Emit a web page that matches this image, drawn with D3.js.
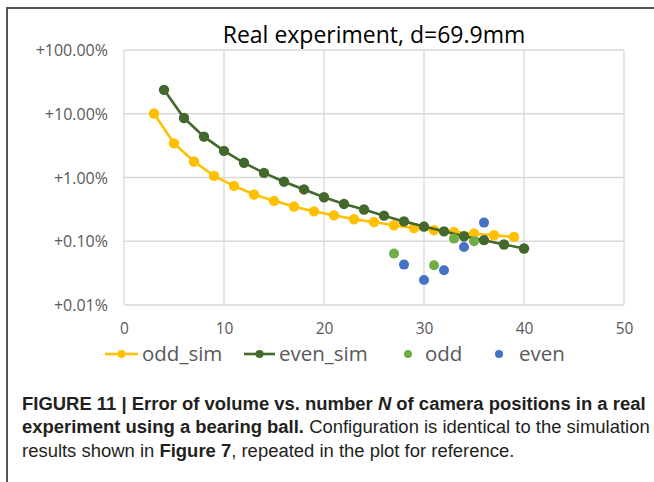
<!DOCTYPE html>
<html>
<head>
<meta charset="utf-8">
<script src="https://cdn.jsdelivr.net/npm/d3@7"></script>
<style>
html,body{margin:0;padding:0;background:#fff;}
svg{display:block;}
</style>
</head>
<body>
<svg id="chart" width="654" height="482"></svg>
<script>
// ---- data ----
const oddSimX = [3,5,7,9,11,13,15,17,19,21,23,25,27,29,31,33,35,37,39];
const oddSimY = [10.1,3.43,1.78,1.06,0.74,0.54,0.43,0.35,0.294,0.255,0.221,0.20,0.178,0.161,0.149,0.140,0.132,0.124,0.117];
const evenSimX = [4,6,8,10,12,14,16,18,20,22,24,26,28,30,32,34,36,38,40];
const evenSimY = [23.7,8.57,4.37,2.62,1.70,1.18,0.86,0.65,0.49,0.385,0.315,0.252,0.205,0.170,0.143,0.120,0.104,0.089,0.077];
const oddX = [27,31,33,35];
const oddY = [0.064,0.042,0.110,0.100];
const evenX = [28,30,32,34,36];
const evenY = [0.043,0.0246,0.035,0.081,0.196];
const xTicks = [0,10,20,30,40,50];
const yTicks = [100,10,1,0.1,0.01];
const yTickLabels = ["+100.00%","+10.00%","+1.00%","+0.10%","+0.01%"];
const seriesNames = ["odd_sim","even_sim","odd","even"];
const titleText = "Real experiment, d=69.9mm";

const colors = {odd_sim:"#FFC000", even_sim:"#43682B", odd:"#70AD47", even:"#4472C4"};

const svg = d3.select("#chart");
const L = 124, R = 624, T = 50, B = 305;
const x = d3.scaleLinear().domain([0,50]).range([L,R]);
const y = d3.scaleLog().domain([0.01,100]).range([B,T]);

const chartFont = "'Open Sans', 'Noto Sans', sans-serif";

// frame (top and left rules)
svg.append("line").attr("x1",7).attr("x2",654).attr("y1",8).attr("y2",8)
  .attr("stroke","#555").attr("stroke-width",2);
svg.append("line").attr("x1",7).attr("x2",7).attr("y1",7).attr("y2",482)
  .attr("stroke","#555").attr("stroke-width",2);

// grid
const grid = svg.append("g");
grid.selectAll("line.v").data(xTicks).join("line")
  .attr("x1",d=>x(d)).attr("x2",d=>x(d)).attr("y1",T).attr("y2",B)
  .attr("stroke","#d9d9d9").attr("stroke-width",1.3);
grid.selectAll("line.h").data(yTicks).join("line")
  .attr("x1",L).attr("x2",R).attr("y1",d=>y(d)).attr("y2",d=>y(d))
  .attr("stroke","#d9d9d9").attr("stroke-width",1.3);

// axes (labels only)
const xAxis = d3.axisBottom(x).tickValues(xTicks).tickSize(0).tickPadding(0).tickFormat(d3.format("d"));
const gx = svg.append("g").attr("transform",`translate(0,${B})`).call(xAxis);
gx.select(".domain").remove();
gx.selectAll("text").attr("dy",null).attr("y",29)
  .style("font-family",chartFont).style("font-size","15.5px").attr("fill","#595959");

const yAxis = d3.axisLeft(y).tickValues(yTicks).tickSize(0).tickPadding(0)
  .tickFormat(d=>yTickLabels[yTicks.indexOf(d)]);
const gy = svg.append("g").attr("transform",`translate(108,0)`).call(yAxis);
gy.select(".domain").remove();
gy.selectAll("text").attr("x",0).attr("dy","0.35em")
  .style("font-family",chartFont).style("font-size","16px").attr("fill","#595959");

// series lines
const line = d3.line().x(d=>x(d[0])).y(d=>y(d[1]));
const oddSim = oddSimX.map((v,i)=>[v,oddSimY[i]]);
const evenSim = evenSimX.map((v,i)=>[v,evenSimY[i]]);
const odd = oddX.map((v,i)=>[v,oddY[i]]);
const even = evenX.map((v,i)=>[v,evenY[i]]);

svg.append("path").datum(oddSim).attr("d",line).attr("fill","none")
  .attr("stroke",colors.odd_sim).attr("stroke-width",2.6);
svg.append("g").selectAll("circle").data(oddSim).join("circle")
  .attr("cx",d=>x(d[0])).attr("cy",d=>y(d[1])).attr("r",5.2).attr("fill",colors.odd_sim);

svg.append("path").datum(evenSim).attr("d",line).attr("fill","none")
  .attr("stroke",colors.even_sim).attr("stroke-width",2.6);
svg.append("g").selectAll("circle").data(evenSim).join("circle")
  .attr("cx",d=>x(d[0])).attr("cy",d=>y(d[1])).attr("r",5.2).attr("fill",colors.even_sim);

svg.append("g").selectAll("circle").data(odd).join("circle")
  .attr("cx",d=>x(d[0])).attr("cy",d=>y(d[1])).attr("r",5).attr("fill",colors.odd);
svg.append("g").selectAll("circle").data(even).join("circle")
  .attr("cx",d=>x(d[0])).attr("cy",d=>y(d[1])).attr("r",5).attr("fill",colors.even);

// title
svg.append("text").attr("x",(L+R)/2).attr("y",43).attr("text-anchor","middle")
  .style("font-family",chartFont).style("font-size","23px").attr("fill","#000")
  .text(titleText);

// legend
const legY = 354;
const leg = svg.append("g");
const legItems = [
  {name:seriesNames[0], type:"line", x0:105, x1:138, tx:142},
  {name:seriesNames[1], type:"line", x0:244, x1:275, tx:279},
  {name:seriesNames[2], type:"dot", x0:408, x1:408, tx:425},
  {name:seriesNames[3], type:"dot", x0:499, x1:499, tx:519}
];
legItems.forEach(it=>{
  const c = colors[it.name];
  if(it.type==="line"){
    leg.append("line").attr("x1",it.x0).attr("x2",it.x1).attr("y1",legY).attr("y2",legY)
      .attr("stroke",c).attr("stroke-width",2.6);
    leg.append("circle").attr("cx",(it.x0+it.x1)/2).attr("cy",legY).attr("r",4).attr("fill",c);
  } else {
    leg.append("circle").attr("cx",it.x0).attr("cy",legY).attr("r",4).attr("fill",c);
  }
  leg.append("text").attr("x",it.tx).attr("y",legY).attr("dy","0.35em")
    .style("font-family",chartFont).style("font-size","20.5px").attr("fill","#595959")
    .text(it.name);
});

// caption
const capFont = "'Liberation Sans', Arial, sans-serif";
const cap = svg.append("g").style("font-family",capFont).attr("fill","#231f20");
const l1 = cap.append("text").attr("x",22).attr("y",410).style("font-size","16px");
l1.append("tspan").attr("font-weight","bold").text("FIGURE 11 | Error of volume vs. number ");
l1.append("tspan").attr("font-weight","bold").attr("font-style","italic").text("N");
l1.append("tspan").attr("font-weight","bold").text(" of camera positions in a real");
const l2 = cap.append("text").attr("x",22).attr("y",433).style("font-size","16px");
l2.append("tspan").attr("font-weight","bold").text("experiment using a bearing ball.");
l2.append("tspan").text(" Configuration is identical to the simulation");
const l3 = cap.append("text").attr("x",22).attr("y",457).style("font-size","16px");
l3.append("tspan").text("results shown in ");
l3.append("tspan").attr("font-weight","bold").text("Figure 7");
l3.append("tspan").text(", repeated in the plot for reference.");
// fit caption width to the reference line width
const w1 = l1.node().getComputedTextLength();
const fs = 16 * 624 / w1;
[l1,l2,l3].forEach(t=>t.style("font-size",fs+"px"));
</script>
</body>
</html>
